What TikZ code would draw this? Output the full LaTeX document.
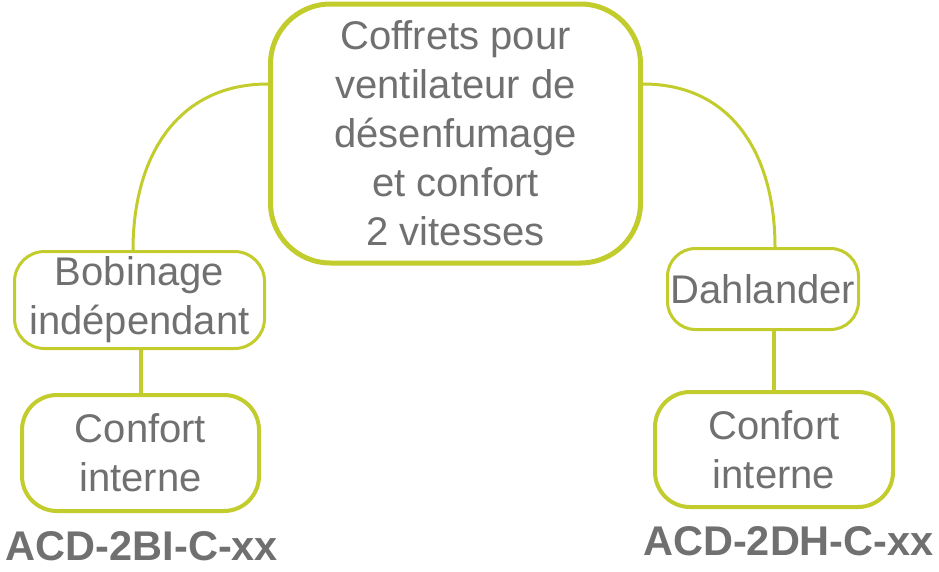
\documentclass[tikz,border=0pt]{standalone}
\usepackage{fontspec}
\setmainfont{Liberation Sans}
\usepackage{tikz}
\usetikzlibrary{positioning,calc}
\usepackage{xcolor}
\definecolor{CofGreen}{HTML}{C2CD2D}
\definecolor{CofGray}{HTML}{707070}

\begin{document}
\begin{tikzpicture}[x=1pt,y=-1pt,
    every node/.style={align=center,text=CofGray,font=\fontsize{40}{49}\selectfont},
    box/.style={draw=CofGreen,rounded corners=#1,inner sep=0pt},
    link/.style={draw=CofGreen,line width=3pt},
    ref/.style={font=\fontsize{41.5}{49}\selectfont\bfseries,anchor=base}]
    \useasboundingbox (0,0) rectangle (939,571);
    \node[box=60pt,line width=5pt,minimum width=370pt,minimum height=259pt] (main) at (455.5,133.5) {Coffrets pour\\ventilateur de\\désenfumage\\et confort\\2 vitesses};
    \node[box=30pt,line width=3pt,minimum width=250pt,minimum height=97pt] (bob) at (139.5,300) {Bobinage\\indépendant};
    \node[box=35pt,line width=4pt,minimum width=237pt,minimum height=116pt] (confL) at (140.5,453) {Confort\\interne};
    \node[box=28pt,line width=3pt,minimum width=191pt,minimum height=81pt] (dahl) at (763,289) {Dahlander};
    \node[box=35pt,line width=4pt,minimum width=238pt,minimum height=115pt] (confR) at (774,449.5) {Confort\\interne};
    \node[ref] (refL) at (142,560) {ACD-2BI-C-xx};
    \node[ref] (refR) at (788.5,555) {ACD-2DH-C-xx};
    \draw[link] ([yshift=49.5pt]main.west) to[out=180,in=90,looseness=1.1] ([xshift=-6.5pt]bob.north);
    \draw[link] ([yshift=49.5pt]main.east) to[out=0,in=90,looseness=1.1] ([xshift=12pt]dahl.north);
    \draw[link,line width=4pt] (confL.north |- bob.south) -- (confL.north);
    \draw[link,line width=4pt] (confR.north |- dahl.south) -- (confR.north);
\end{tikzpicture}
\end{document}
